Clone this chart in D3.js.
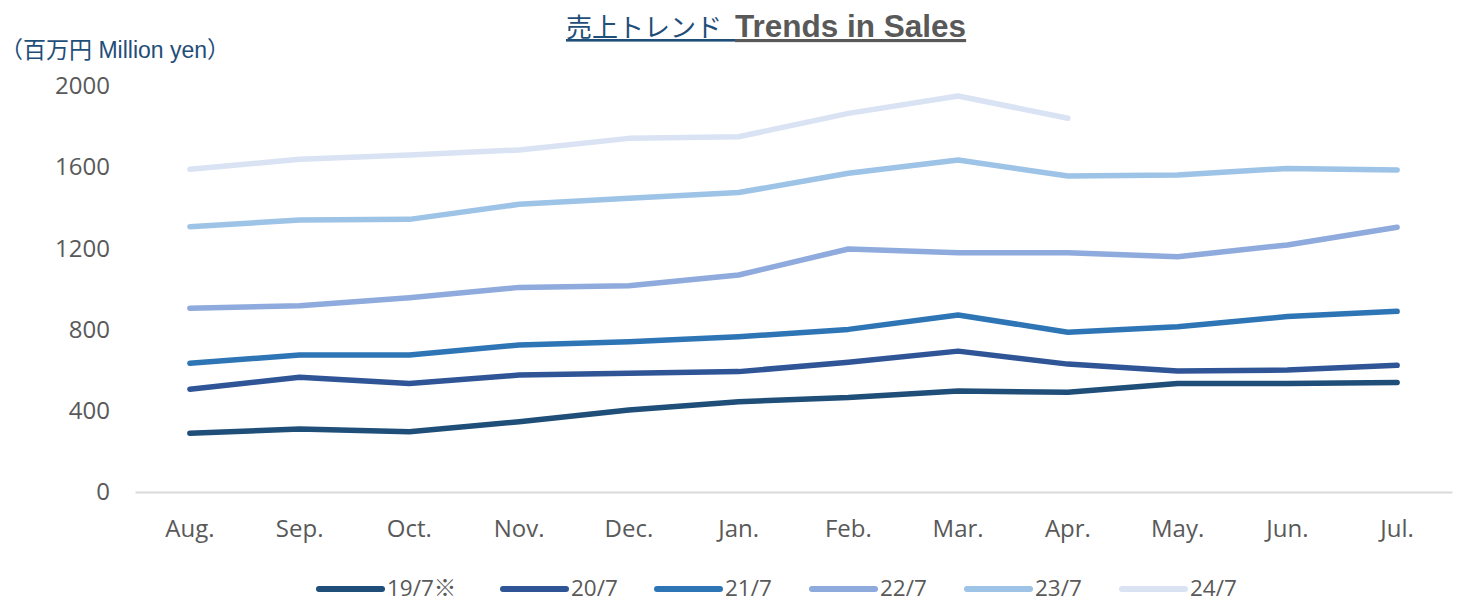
<!DOCTYPE html>
<html><head><meta charset="utf-8">
<script src="https://cdn.jsdelivr.net/npm/d3@7"></script>
<style>body{margin:0;background:#fff}svg{display:block}</style>
</head><body>
<script>
const months = ["Aug.","Sep.","Oct.","Nov.","Dec.","Jan.","Feb.","Mar.","Apr.","May.","Jun.","Jul."];
const seriesNames = ["19/7※","20/7","21/7","22/7","23/7","24/7"];
const s19 = [290,310,297,346,404,445,465,497,491,535,535,540];
const s20 = [506,565,535,576,585,593,639,694,630,596,601,624];
const s21 = [634,675,675,724,740,765,801,872,787,814,864,890];
const s22 = [905,918,957,1008,1016,1069,1197,1179,1179,1159,1217,1304];
const s23 = [1307,1340,1343,1417,1447,1475,1570,1635,1557,1562,1594,1586];
const s24 = [1590,1639,1660,1685,1742,1750,1865,1951,1841,null,null,null];
const yTicks = [0,400,800,1200,1600,2000];
const colors = ["#1f4e79","#2f5597","#2e75b6","#8faadc","#9dc3e6","#dae3f3"];
const allSeries = [s19,s20,s21,s22,s23,s24];

const W=1458,H=603;
const svg=d3.select("body").append("svg").attr("width",W).attr("height",H);
const x=d3.scaleBand().domain(months).range([135,1452]);
const y=d3.scaleLinear().domain([0,2000]).range([492,86]);

// title
const t=svg.append("text").attr("x",566).attr("y",37).attr("text-anchor","start");
t.append("tspan").attr("fill","#1f4e79").attr("font-family","'Noto Sans CJK JP',sans-serif")
  .attr("font-size",26).style("text-decoration","underline").text("売上トレンド\u2002");
t.append("tspan").attr("fill","#595959").attr("font-family","'Liberation Sans',Arial,sans-serif")
  .attr("font-weight","bold").attr("font-size",31.5).style("text-decoration","underline").text("Trends in Sales");

// y unit label
svg.append("text").attr("x",0).attr("y",58).attr("fill","#1f4e79")
  .attr("font-family","'Liberation Sans','Noto Sans CJK JP',sans-serif").attr("font-size",23)
  .text("（百万円 Million yen）");

// y axis labels
const yAxis=d3.axisLeft(y).tickValues(yTicks).tickFormat(d3.format("d")).tickSize(0).tickPadding(0);
const gy=svg.append("g").attr("transform","translate(110,0)").call(yAxis);
gy.select(".domain").remove();
gy.selectAll("text").attr("font-family","'Open Sans',sans-serif").attr("font-size",24).attr("fill","#595959");

// x axis
const xAxis=d3.axisBottom(x).tickSize(0).tickPadding(28);
const gx=svg.append("g").attr("transform","translate(0,492)").call(xAxis);
gx.select(".domain").attr("stroke","#d9d9d9").attr("stroke-width",2);
gx.selectAll("text").attr("font-family","'Open Sans',sans-serif").attr("font-size",24).attr("fill","#595959");

// lines
const line=d3.line().defined(d=>d!=null).x((d,i)=>x(months[i])+x.bandwidth()/2).y(d=>y(d));
allSeries.forEach((s,k)=>{
  svg.append("path").attr("d",line(s)).attr("fill","none").attr("stroke",colors[k])
    .attr("stroke-width",5.5).attr("stroke-linecap","round").attr("stroke-linejoin","round");
});

// legend
const legX=[319,503,657,812,967,1122];
seriesNames.forEach((n,k)=>{
  const g=svg.append("g").attr("transform",`translate(${legX[k]},589)`);
  g.append("line").attr("x1",0).attr("x2",63).attr("y1",0).attr("y2",0).attr("stroke",colors[k])
    .attr("stroke-width",6).attr("stroke-linecap","round");
  g.append("text").attr("x",68).attr("y",7).attr("fill","#595959")
    .attr("font-family","'Open Sans','Noto Sans CJK JP',sans-serif").attr("font-size",22.5).text(n);
});
</script>
</body></html>
